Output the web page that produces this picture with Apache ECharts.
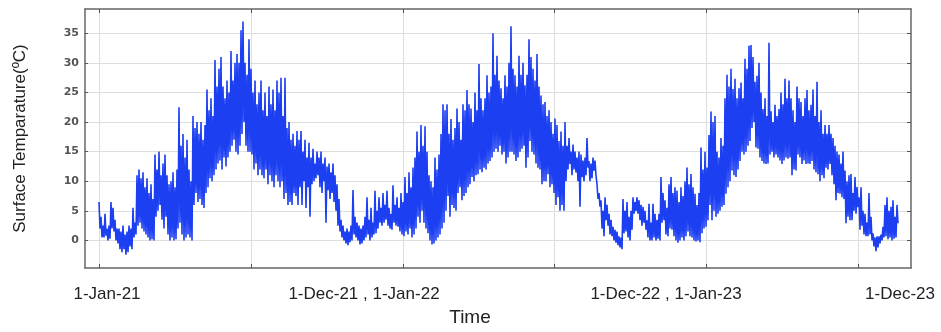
<!DOCTYPE html>
<html>
<head>
<meta charset="utf-8">
<script src="https://cdn.jsdelivr.net/npm/echarts@6/dist/echarts.min.js"></script>
<style>html,body{margin:0;padding:0;background:#fff}#c{width:941px;height:332px}</style>
</head>
<body>
<div id="c"></div>
<script>
// Per-column (≈2.5 day) high / low surface temperature readings, year segments Jan–Dec
const hi21 = [6.5,4,2.5,4.5,2,2.5,6.5,5.5,3.5,2,
  2,1.5,2.5,1,1.5,2.5,2,5.5,3,11,
  12,10.5,11.5,9,10.5,8,9.5,7,14.5,12,
  15,11,13,14.5,11,9.5,10,11.5,9,12,
  22.5,16,18,14,17,12,10,21,19,20,
  18,20,17,19.5,25.5,22,24,21,30.5,26,
  29,31,26,24,27,25,32,27,30,31.5,
  30,35.5,37,30,28,34,29,25,27,23,
  25,27,22,25,21,26,23,25.5,22,27,
  25,27.5,21,27.5,19,20,17,18,16,18.5,
  17,18.5,15,17,14,16.5,14,15.5,13,15,
  14,15,13,14,12.5,13,11.5,13,11,9.5,
  7,3.5,2.5,1.5,2,1.5,2.5,8.5,4,3,
  2.5,2,2.5];
const lo21 = [2,0.5,0.5,0.8,0,0.3,2,1.5,0,-0.5,
  -1.5,-2,-1.5,-2.4,-2,-1,-1.5,0.5,1,2.5,
  3,2,1.5,1,0.5,0,0.2,0,4,5,
  6,3.5,2,4,1,0,0.5,0,0.2,2,
  3,1,0,0.5,1,0.5,0,6,8,6.5,
  7,6,5.5,8,9,10.5,10,11,12,13,
  13.5,12,14,12.5,14,15,16,17,15,14.5,
  16,18,20,16,15,15,14.5,12,13,11,
  12,11,10.5,12,9.5,11,10,9,11,10,
  9,10,7,8,6,6.5,6,8,7.5,6,
  9,6,10,5.5,9,4,9.5,10,10.5,11,
  9,8,10,3,8.5,7,8,6.5,5,2.5,
  1.5,0.5,0,-0.5,-0.8,-0.3,0,1,0.5,0,
  -0.7,-0.5,0];
const hi22 = [4,7.3,3.5,5.5,3,8.4,5,7.3,5.5,8,
  6,8.4,5.5,4.5,9.3,6,7.3,5.5,8,6.5,
  10.7,8,11.5,9,12.3,14,18.4,15,19.5,16,
  19.3,15,11,10,9,14,12,14.5,18,23,
  22,23,18,20.5,17,19,22.3,20,17,23,
  22,25.4,23,22.3,20,25,22,29.8,24,22,
  24,27.9,25,26,35,28,31.2,27,25.7,24,
  27.9,26,30,36.2,29,27.9,26,31.2,28,30,
  26.2,28,34,31,29,27,31.5,26,24.5,23,
  23.4,21,22,20,18,20.6,19.5,16.8,18.4,16,
  20,16,17.3,15,16.2,15,14,15,14.5,13.5,
  14,17.3,13.4,13,14,13.5,9.5,8,6.8,5,
  7.3,6,4.5,3.5,2.3,1.8,1.5,0.7,0.5,7,
  5,6.5,4];
const lo22 = [0.5,1,0,0.5,1,1.2,2,3,2.5,3,
  3.5,2.5,2,1.8,3,2.5,2.3,1.5,1,0.7,
  1.5,1,2,0.5,1,2,4,3,5,3,
  2,1.2,0,-0.7,-0.5,0,0.5,1,2,3,
  5,7.5,4,6,5.5,5,8,9,6.8,7.5,
  8,9,9.5,10.7,10,11,11.2,12,11.5,12.3,
  12,13,13.4,14,15,15.5,15,16,14.5,15,
  13,14,15,15,14.5,13.4,14,15,15.5,16,
  12.3,14,16.8,15,14.5,13,12.3,12,9.5,10,
  10,11.2,9,9.5,8,6,7.3,5,6,5,
  10,12,12.9,11,12,11.5,10,5.7,10.7,10,
  11,12.3,10,10.5,11.8,11,7,5.7,2,0.7,
  3.4,2.5,1,0.7,0,-0.4,-0.8,-1.2,-1.5,1.2,
  1.5,0.5,0];
const hi23 = [5,7.3,6.5,7.3,6.8,6,5.7,5,3.4,6.2,
  3,6.2,4.5,3.5,4.5,10.7,8,6.8,5.5,9.5,
  10.7,8,9,8.4,6.5,9,7.5,10,12.3,9.5,
  11.2,9,7.9,6,8,15.7,12,15,12.3,17.8,
  21.8,20,21,15,14,17.3,16,24,28,26,
  29,25.6,27.3,24,25.7,26.7,24,30.7,29,32.9,
  33,31,26.8,27.8,30,25,22.2,24,21,33.4,
  21.8,20,22.9,21,22.2,25,23,27.3,24,27,
  24,22,20,26,24,23.4,21,24,25.4,22,
  22.9,25.5,21,26.8,20,22,18,19.5,18,19.5,
  18,17.3,16,15,14.5,13,15,11.8,10,11,
  11.2,8,10.7,9,7.3,9,5,4.5,3,8,
  4,1.2,0.5,0.7,0.7,1,2.3,6,7.3,5,
  5.7,6.8,4,6];
const lo23 = [1.8,4.5,5,4.5,3.4,2.5,3,1.8,0.5,0,
  0,0.5,0,0.3,0,3,3.4,1,0.7,2,
  1.8,0.7,0,-0.4,0,0.5,0,0.7,1.5,0.7,
  0.5,0,-0.2,0,-0.3,1.2,2,2.3,3.4,6,
  3.4,5,4,4.5,5,5.7,6,7.9,9,10,
  11.8,11,10.7,12,13.4,15,14.5,15,16,16.8,
  19,20,15.7,15.5,14,13.4,13,12.9,13,14.5,
  15,14,14.5,14,13.5,12.9,13.5,14,13.8,14,
  11,12,11.8,14.5,14,12.9,13.5,12.9,13,12.9,
  13.4,12,11.5,11.2,10,11,10.5,12.3,12,12.9,
  11,9.5,6.8,8,7.9,7.3,7,2.9,4,3.4,
  3.4,5,4.5,5.6,1.8,2.5,1,0.7,0.7,1,
  0,-1,-1.8,-1.2,-0.5,0,0.5,0.7,0.2,0.5,
  0,0.3,0.5,2.9];

const xTickLabels = ['1-Jan-21', '1-Dec-21 , 1-Jan-22', '1-Dec-22 , 1-Jan-23', '1-Dec-23'];
const xLabelPos = [4, 132.5, 283.5, 400.5];
const xGridPos = [0.25, 76, 152, 227.75, 303.5, 379.5];
const yTicks = [0, 5, 10, 15, 20, 25, 30, 35];

const hi = hi21.concat(hi22, hi23);
const lo = lo21.concat(lo22, lo23);
const data = [];
for (let i = 0; i < hi.length; i++) {
  data.push([i, hi[i]]);
  data.push([i + 0.5, lo[i]]);
}

const borderColor = '#666666';
const chart = echarts.init(document.getElementById('c'), null, {renderer: 'canvas'});
chart.setOption({
  animation: false,
  backgroundColor: '#fff',
  grid: {left: 85, right: 30, top: 9, bottom: 60, containLabel: false},
  xAxis: [{
    type: 'value', min: -7, max: 406, position: 'bottom',
    name: 'Time', nameLocation: 'middle', nameGap: 40,
    nameTextStyle: {fontFamily: 'Liberation Sans', fontSize: 19, color: '#222', padding: [0, 56, 0, 0]},
    axisLine: {show: true, onZero: false, lineStyle: {color: borderColor, width: 1.5}},
    axisTick: {show: true, inside: true, length: 4, customValues: xGridPos, lineStyle: {color: '#555'}},
    splitLine: {show: true, lineStyle: {color: '#dddddd', width: 1}},
    axisLabel: {show: true, customValues: xLabelPos, margin: 18,
      fontFamily: 'Liberation Sans', fontSize: 17, color: '#222',
      formatter: function (v) { const k = xLabelPos.indexOf(v); return k >= 0 ? xTickLabels[k] : ''; }}
  }, {
    type: 'value', min: -7, max: 406, position: 'top',
    axisLine: {show: true, onZero: false, lineStyle: {color: borderColor, width: 1.5}},
    axisTick: {show: true, inside: true, length: 4, customValues: xGridPos, lineStyle: {color: '#555'}},
    splitLine: {show: false}, axisLabel: {show: false}
  }],
  yAxis: [{
    type: 'value', min: -4.66, max: 39.1, position: 'left',
    name: 'Surface Temparature(\u00baC)', nameLocation: 'middle', nameGap: 56, nameRotate: 90,
    nameTextStyle: {fontFamily: 'Liberation Sans', fontSize: 17, color: '#222'},
    axisLine: {show: true, onZero: false, lineStyle: {color: borderColor, width: 1.5}},
    axisTick: {show: true, inside: true, length: 3, customValues: yTicks, lineStyle: {color: '#555'}},
    splitLine: {show: true, lineStyle: {color: '#dddddd', width: 1}},
    axisLabel: {show: true, customValues: yTicks, margin: 6,
      fontFamily: 'DejaVu Sans', fontSize: 11, fontWeight: 'bold', color: '#555'}
  }, {
    type: 'value', min: -4.66, max: 39.1, position: 'right',
    axisLine: {show: true, onZero: false, lineStyle: {color: borderColor, width: 1.5}},
    axisTick: {show: true, inside: true, length: 4, customValues: yTicks, lineStyle: {color: '#555'}},
    splitLine: {show: false}, axisLabel: {show: false}
  }],
  series: [{
    type: 'line', data: data, xAxisIndex: 0, yAxisIndex: 0,
    showSymbol: false, symbol: 'none', sampling: null,
    lineStyle: {color: '#1d3ff2', width: 1.6}
  }]
});
</script>
</body>
</html>
